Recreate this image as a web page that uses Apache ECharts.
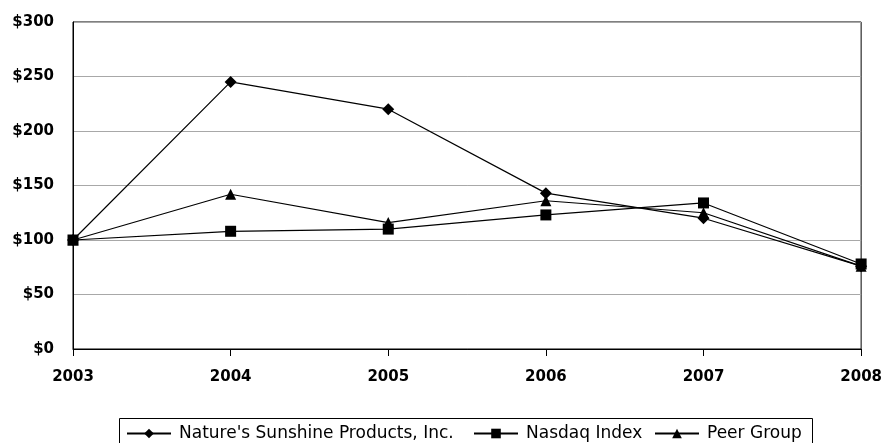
<!DOCTYPE html>
<html>
<head>
<meta charset="utf-8">
<script src="https://cdn.jsdelivr.net/npm/echarts@6/dist/echarts.min.js"></script>
<style>
html,body{margin:0;padding:0;background:#fff;}
#chart{width:885px;height:443px;}
</style>
</head>
<body>
<div id="chart"></div>
<script>
var years = ['2003', '2004', '2005', '2006', '2007', '2008'];
var natures = [100, 245, 220, 143, 120, 76];
var nasdaq = [100, 108, 110, 123, 134, 78];
var peer = [100, 142, 116, 136, 125, 76];
var seriesNames = ["Nature's Sunshine Products, Inc.", 'Nasdaq Index', 'Peer Group'];
var legendLefts = [126, 473, 654];

var chart = echarts.init(document.getElementById('chart'), null, {renderer: 'canvas'});
function mk(name, data, symbol, size) {
  return {
    name: name, type: 'line', data: data,
    symbol: symbol, symbolSize: size,
    showAllSymbol: true,
    lineStyle: {color: '#000', width: 1.2},
    itemStyle: {color: '#000'},
    emphasis: {disabled: true},
    animation: false
  };
}
var legends = seriesNames.map(function (n, i) {
  return {
    data: [n],
    left: legendLefts[i], top: 425,
    padding: 0,
    itemWidth: 44, itemHeight: 12,
    textStyle: {fontFamily: 'DejaVu Sans', fontSize: 17, color: '#000', padding: [0, 0, 0, 3]}
  };
});
chart.setOption({
  animation: false,
  backgroundColor: '#fff',
  grid: {left: 73, right: 22, top: 22, bottom: 94, show: true, borderColor: '#000', borderWidth: 1, containLabel: false},
  graphic: [{
    type: 'rect', silent: true,
    shape: {x: 119.5, y: 418.5, width: 693, height: 30},
    style: {fill: 'none', stroke: '#000', lineWidth: 1}
  }],
  legend: legends,
  xAxis: {
    type: 'category', data: years, boundaryGap: false,
    axisLine: {lineStyle: {color: '#000', width: 1}},
    axisTick: {show: true, length: 7, lineStyle: {color: '#000'}, alignWithLabel: true},
    axisLabel: {fontFamily: 'DejaVu Sans', fontWeight: 'bold', fontSize: 15, color: '#000', margin: 21},
    splitLine: {show: false}
  },
  yAxis: {
    type: 'value', min: 0, max: 300, interval: 50,
    axisLine: {show: true, lineStyle: {color: '#000', width: 1}},
    axisTick: {show: false},
    axisLabel: {fontFamily: 'DejaVu Sans', fontWeight: 'bold', fontSize: 15, color: '#000', margin: 19,
      formatter: function (v) { return '$' + v; }},
    splitLine: {show: true, lineStyle: {color: '#a8a8a8', width: 1}}
  },
  series: [
    mk(seriesNames[0], natures, 'diamond', 12),
    mk(seriesNames[1], nasdaq, 'rect', 11),
    mk(seriesNames[2], peer, 'triangle', 11)
  ]
});
</script>
</body>
</html>
